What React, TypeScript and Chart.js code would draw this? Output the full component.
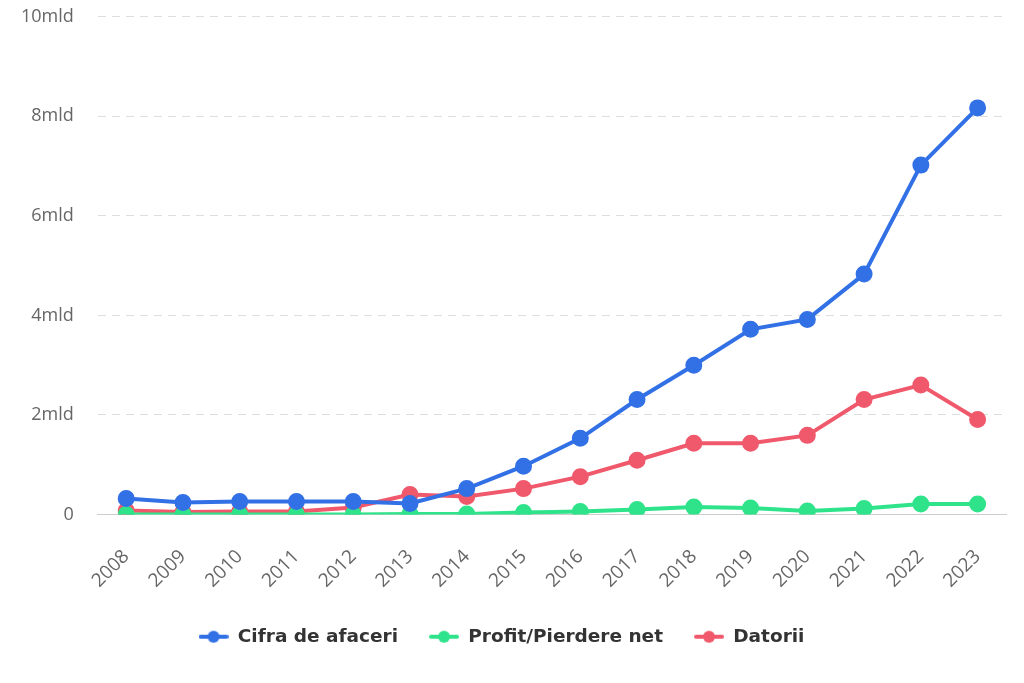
import React, { useEffect, useRef } from "react";
import { Chart, registerables } from "chart.js";

Chart.register(...registerables);

const years = ["2008","2009","2010","2011","2012","2013","2014","2015","2016","2017","2018","2019","2020","2021","2022","2023"];
const cifraDeAfaceri = [0.32,0.24,0.26,0.26,0.26,0.22,0.52,0.97,1.53,2.31,3.0,3.72,3.92,4.83,7.02,8.17];
const profitPierdere = [0.0,0.0,0.0,0.0,0.0,0.01,0.01,0.04,0.06,0.1,0.15,0.13,0.07,0.12,0.21,0.21];
const datorii = [0.08,0.05,0.06,0.06,0.14,0.4,0.36,0.52,0.76,1.09,1.43,1.43,1.59,2.31,2.6,1.91];
const yTicks = [0, 2, 4, 6, 8, 10];

const BLUE = "#3270e6";
const GREEN = "#2fe38b";
const RED = "#f0586b";

function legendIcon(color: string): HTMLCanvasElement {
  const w = 30, h = 14;
  const c = document.createElement("canvas");
  c.width = w;
  c.height = h;
  const ctx = c.getContext("2d")!;
  ctx.strokeStyle = color;
  ctx.lineWidth = 4;
  ctx.lineCap = "round";
  ctx.beginPath();
  ctx.moveTo(2, h / 2);
  ctx.lineTo(w - 2, h / 2);
  ctx.stroke();
  ctx.fillStyle = color;
  ctx.beginPath();
  ctx.arc(w / 2, h / 2, 6, 0, Math.PI * 2);
  ctx.fill();
  return c;
}

export default function App() {
  const ref = useRef<HTMLCanvasElement>(null);
  useEffect(() => {
    document.body.style.margin = "0";
    const series = [
      { label: "Cifra de afaceri", data: cifraDeAfaceri, color: BLUE },
      { label: "Profit/Pierdere net", data: profitPierdere, color: GREEN },
      { label: "Datorii", data: datorii, color: RED },
    ];
    const chart = new Chart(ref.current!, {
      type: "line",
      data: {
        labels: years,
        datasets: series.map((s) => ({
          label: s.label,
          data: s.data,
          borderColor: s.color,
          backgroundColor: s.color,
          pointBackgroundColor: s.color,
          pointBorderColor: s.color,
          borderWidth: 4,
          pointRadius: 6.5,
          pointHoverRadius: 6.5,
          tension: 0,
          fill: false,
        })),
      },
      options: {
        animation: false,
        responsive: true,
        maintainAspectRatio: false,
        layout: { padding: { top: 0, right: 18, left: 0, bottom: 27 } },
        plugins: {
          tooltip: { enabled: false },
          legend: {
            position: "bottom",
            labels: {
              usePointStyle: true,
              pointStyleWidth: 30,
              boxHeight: 14,
              padding: 31,
              color: "#333333",
              font: { family: "'DejaVu Sans', sans-serif", size: 18.5, weight: "bold" },
              generateLabels: (ch: any) =>
                ch.data.datasets.map((d: any, i: number) => ({
                  text: d.label,
                  fillStyle: d.borderColor,
                  strokeStyle: d.borderColor,
                  lineWidth: 0,
                  hidden: false,
                  datasetIndex: i,
                  pointStyle: legendIcon(d.borderColor),
                  fontColor: "#333333",
                })),
            },
          },
        },
        scales: {
          x: {
            offset: true,
            grid: { display: false },
            border: { display: true, color: "#cccccc" },
            afterFit: (scale: any) => {
              scale.height = 82;
            },
            ticks: {
              color: "#666666",
              font: { family: "'Open Sans', sans-serif", size: 19 },
              minRotation: 45,
              maxRotation: 45,
              padding: 23,
            },
          },
          y: {
            min: 0,
            max: 10,
            afterBuildTicks: (axis: any) => {
              axis.ticks = yTicks.map((v) => ({ value: v }));
            },
            grid: {
              color: (ctx: any) => (ctx.tick && ctx.tick.value === 0 ? "rgba(0,0,0,0)" : "#dedede"),
              lineWidth: 1,
              drawTicks: false,
            },
            border: { display: true, color: "rgba(0,0,0,0)", dash: [8, 6] },
            ticks: {
              color: "#666666",
              padding: 24,
              font: { family: "'Open Sans', sans-serif", size: 18 },
              callback: (v: any) => (v === 0 ? "0" : v + "mld"),
            },
          },
        },
      },
    });
    return () => chart.destroy();
  }, []);
  return (
    <div style={{ position: "fixed", left: 0, top: 0, width: 1024, height: 683, overflow: "hidden", background: "#ffffff" }}>
      <div style={{ position: "absolute", left: -3, top: -18, width: 1027, height: 701 }}>
        <canvas ref={ref} />
      </div>
    </div>
  );
}
